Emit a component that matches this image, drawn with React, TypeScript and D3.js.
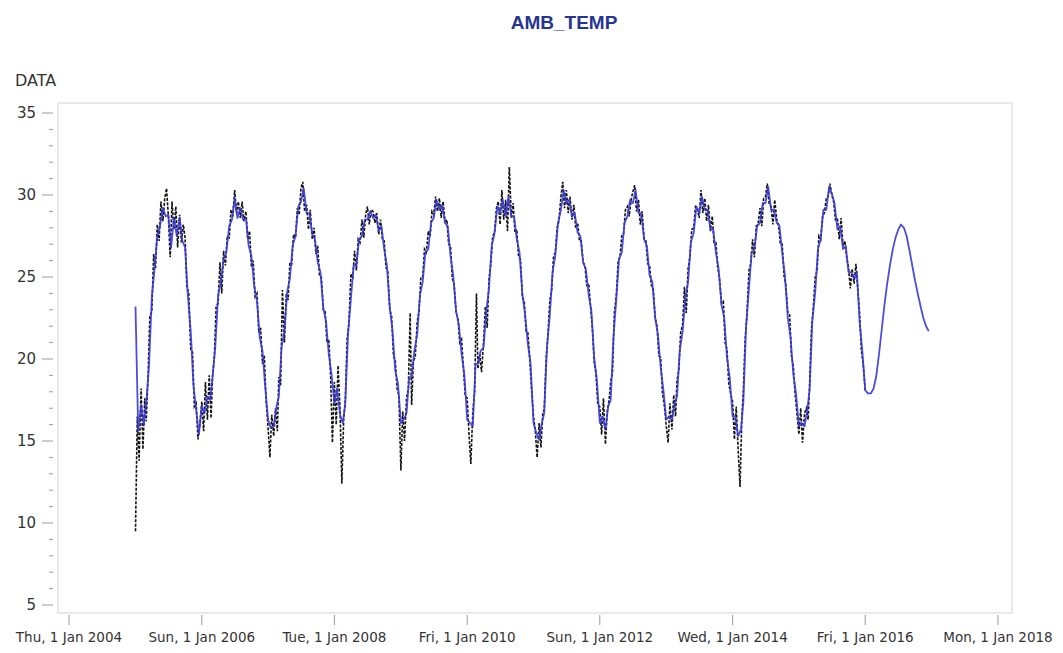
import React from "react";
import * as d3 from "d3";

// Ambient temperature: observed readings (three per month: 1st, 11th, 21st)
const firstYear = 2005;
const obs2005 = [9.5, 16.5, 13.8, 18.2, 14.5, 17.6, 16.2, 18.9, 22.6, 22.9, 26.4, 25.5, 28.2, 27.2, 29.6, 28.4, 29.8, 30.4, 28.7, 26.2, 29.6, 27.9, 29.3, 26.8, 28.8, 27.1, 28.2, 27.4, 24.3, 24.1, 20.6, 20.4, 17.1, 17.3, 15.1, 16.0];
const obs2006 = [17.4, 15.6, 18.6, 16.3, 19.0, 16.4, 18.9, 20.1, 23.2, 23.4, 25.9, 24.0, 26.6, 25.7, 27.5, 27.4, 29.1, 28.7, 30.3, 28.9, 29.6, 28.6, 29.6, 28.4, 29.0, 27.3, 27.8, 25.6, 26.0, 23.8, 24.0, 21.6, 21.9, 19.7, 20.2, 17.5];
const obs2007 = [15.8, 14.0, 16.6, 15.3, 17.0, 15.6, 18.9, 18.4, 24.2, 21.0, 24.0, 23.6, 25.9, 25.8, 27.6, 27.4, 29.2, 28.8, 30.4, 30.8, 29.0, 29.4, 27.9, 29.1, 27.3, 28.0, 26.4, 26.9, 25.1, 25.0, 23.0, 22.9, 21.0, 21.2, 19.0, 14.9];
const obs2008 = [18.6, 16.0, 19.6, 17.0, 12.4, 16.3, 17.5, 21.2, 22.2, 25.2, 24.9, 26.6, 25.4, 27.3, 27.1, 28.5, 27.4, 28.8, 29.3, 28.2, 29.1, 29.0, 28.3, 28.9, 27.6, 28.5, 27.3, 27.2, 25.6, 25.3, 23.0, 22.6, 20.2, 19.9, 18.2, 17.8];
const obs2009 = [13.2, 16.8, 15.0, 17.6, 18.2, 22.8, 17.2, 19.9, 20.1, 22.3, 22.9, 25.0, 25.0, 26.7, 26.5, 27.8, 27.5, 29.0, 28.8, 29.9, 29.0, 29.8, 28.6, 29.6, 28.4, 28.5, 27.0, 26.9, 24.9, 24.6, 22.8, 22.5, 21.0, 21.2, 19.5, 17.8];
const obs2010 = [17.6, 15.4, 13.6, 16.8, 18.0, 24.0, 19.4, 20.3, 19.2, 21.0, 23.2, 21.9, 24.9, 25.8, 27.4, 27.8, 29.2, 29.6, 28.2, 30.3, 28.5, 29.7, 27.8, 31.7, 28.6, 29.5, 27.7, 27.9, 26.2, 26.1, 23.8, 23.5, 21.7, 21.6, 20.1, 18.2];
const obs2011 = [16.5, 15.6, 14.0, 16.1, 14.6, 16.7, 16.9, 19.9, 21.4, 23.6, 24.2, 26.2, 26.5, 28.0, 28.4, 29.9, 30.8, 29.2, 30.3, 28.9, 29.9, 28.5, 29.4, 28.0, 28.3, 27.2, 27.2, 25.9, 25.7, 24.5, 24.6, 23.2, 21.9, 19.8, 19.1, 17.2];
const obs2012 = [17.1, 15.4, 17.6, 14.8, 16.8, 17.5, 18.6, 19.2, 22.8, 23.9, 26.0, 26.2, 27.5, 27.6, 29.1, 29.3, 28.7, 29.7, 30.2, 30.6, 29.0, 29.7, 28.2, 29.0, 27.3, 27.2, 25.8, 25.7, 24.5, 24.3, 22.5, 22.0, 20.2, 20.1, 17.9, 17.2];
const obs2013 = [15.9, 14.9, 17.3, 15.7, 17.8, 16.5, 18.7, 19.3, 21.6, 22.1, 24.4, 22.8, 25.5, 26.2, 27.9, 28.0, 29.3, 29.2, 28.6, 30.3, 28.9, 29.8, 28.4, 29.4, 27.8, 28.7, 27.1, 27.1, 25.6, 24.9, 23.4, 23.5, 21.0, 20.6, 18.5, 17.9];
const obs2014 = [17.4, 15.1, 17.1, 14.4, 12.2, 16.5, 18.0, 21.2, 22.7, 25.4, 25.8, 27.3, 26.2, 28.1, 28.2, 29.2, 28.1, 29.8, 29.9, 30.7, 29.5, 29.3, 28.2, 29.7, 28.5, 28.2, 27.0, 27.0, 25.1, 24.5, 22.8, 22.7, 20.2, 19.6, 17.9, 16.7];
const obs2015 = [15.4, 17.0, 14.9, 16.7, 17.0, 16.3, 18.5, 21.8, 23.1, 25.0, 25.4, 27.5, 27.3, 28.7, 28.9, 29.8, 29.9, 30.7, 30.0, 29.6, 28.5, 28.6, 27.3, 28.6, 26.9, 27.2, 26.2, 25.6, 24.3, 25.5, 24.6, 25.8, 24.3, 22.8, 20.5, 19.7];
const obsClosing = 18.1; // reading on 1 Jan 2016

// Model values (1st and 16th of each month), forecast through 2016
const fit2005 = [23.2, 15.6, 17.2, 16.0, 17.3, 19.5, 23.8, 25.5, 27.5, 28.1, 29.2, 28.7, 28.8, 26.8, 28.6, 27.5, 28.6, 27.2, 26.8, 23.9, 21.7, 18.4, 16.9, 15.4];
const fit2006 = [17.1, 16.7, 17.7, 17.5, 18.9, 20.7, 23.9, 24.7, 26.1, 26.5, 28.1, 28.5, 29.8, 28.6, 29.2, 28.5, 28.6, 26.9, 26.3, 24.5, 23.5, 21.3, 20.5, 18.3];
const fit2007 = [16.3, 15.8, 15.9, 17.1, 17.7, 20.7, 21.7, 24.1, 24.9, 26.9, 27.5, 29.3, 29.6, 30.4, 28.9, 28.9, 27.6, 27.3, 25.9, 25.3, 23.1, 22.3, 20.3, 19.1];
const fit2008 = [17.3, 18.2, 16.6, 16.1, 17.3, 21.5, 23.7, 25.7, 25.7, 27.3, 27.5, 28.5, 28.5, 29.0, 28.6, 28.8, 27.8, 28.1, 26.7, 25.7, 23.1, 21.7, 19.3, 18.5];
const fit2009 = [16.1, 16.3, 16.7, 18.9, 18.9, 20.5, 21.5, 23.9, 24.7, 26.5, 26.7, 28.3, 28.6, 29.7, 29.1, 29.4, 28.3, 28.1, 26.3, 25.1, 22.9, 22.1, 20.3, 19.1];
const fit2010 = [16.3, 16.1, 15.9, 19.7, 19.7, 20.5, 20.7, 22.9, 24.3, 26.9, 27.7, 29.3, 28.9, 29.7, 28.7, 29.9, 28.7, 28.7, 27.3, 26.5, 23.9, 22.7, 20.9, 19.7];
const fit2011 = [16.1, 15.5, 15.1, 16.1, 16.7, 20.7, 22.7, 25.3, 26.3, 28.3, 29.1, 30.3, 29.5, 29.7, 28.7, 28.9, 27.7, 27.5, 25.9, 25.5, 23.9, 22.9, 20.1, 18.7];
const fit2012 = [16.1, 16.5, 15.7, 17.1, 17.5, 21.3, 23.7, 26.1, 26.5, 28.3, 28.7, 29.7, 29.5, 30.3, 28.9, 28.9, 27.3, 26.9, 25.1, 24.7, 22.5, 21.5, 19.5, 18.1];
const fit2013 = [16.3, 16.5, 16.3, 17.3, 17.7, 20.5, 21.7, 23.7, 24.7, 27.1, 27.7, 29.3, 28.9, 29.9, 29.1, 29.1, 27.9, 27.9, 26.5, 25.5, 23.3, 22.5, 20.1, 18.9];
const fit2014 = [16.5, 16.5, 15.3, 15.7, 17.3, 21.9, 24.3, 26.5, 26.7, 28.1, 28.3, 29.5, 29.5, 30.5, 29.1, 29.1, 28.3, 28.1, 26.5, 25.1, 22.5, 21.3, 19.1, 17.9];
const fit2015 = [15.9, 16.1, 15.9, 16.9, 18.1, 22.3, 24.1, 26.7, 27.3, 29.1, 29.1, 30.5, 30.1, 29.5, 27.9, 28.1, 26.7, 26.9, 25.3, 25.3, 24.9, 25.3, 22.3, 20.5];
const fit2016 = [18.1, 17.9, 17.9, 18.2, 18.9, 20.2, 21.8, 23.3, 24.6, 25.7, 26.7, 27.4, 27.9, 28.2, 28.0, 27.5, 26.6, 25.7, 24.8, 24.0, 23.2, 22.5, 22.0, 21.7];

const observedByYear = [obs2005, obs2006, obs2007, obs2008, obs2009, obs2010, obs2011, obs2012, obs2013, obs2014, obs2015];
const fittedByYear = [fit2005, fit2006, fit2007, fit2008, fit2009, fit2010, fit2011, fit2012, fit2013, fit2014, fit2015, fit2016];

const yMajorTicks = [5, 10, 15, 20, 25, 30, 35];
const xTickYears = [2004, 2006, 2008, 2010, 2012, 2014, 2016, 2018];

const title = "AMB_TEMP";
const yTitle = "DATA";

type Pt = { date: Date; value: number };

const observed: Pt[] = [
  ...observedByYear.flatMap((vals, yi) =>
    vals.map((v, i) => ({ date: new Date(firstYear + yi, Math.floor(i / 3), [1, 11, 21][i % 3]), value: v }))
  ),
  { date: new Date(firstYear + observedByYear.length, 0, 1), value: obsClosing },
];

const fitted: Pt[] = fittedByYear.flatMap((vals, yi) =>
  vals.map((v, i) => ({ date: new Date(firstYear + yi, Math.floor(i / 2), i % 2 === 0 ? 1 : 16), value: v }))
);

const W = 1063;
const H = 653;
const frame = { left: 58, top: 103, right: 1012, bottom: 613 };

export default function App() {
  const x = d3
    .scaleTime()
    .domain([new Date(2004, 0, 1), new Date(2018, 0, 1)])
    .range([69, 998]);
  const y = d3.scaleLinear().domain([5, 35]).range([605, 113]);

  const line = d3
    .line<Pt>()
    .x((d) => x(d.date))
    .y((d) => y(d.value));

  const minorTicks = d3.range(5, 36).filter((v) => v % 5 !== 0);
  const fmt = d3.timeFormat("%a, %-d %b %Y");
  const font = "'DejaVu Sans', Verdana, sans-serif";

  return (
    <div style={{ position: "absolute", left: 0, top: 0 }}>
      <svg width={W} height={H} style={{ display: "block", background: "#fff" }}>
        <text x={564} y={29} textAnchor="middle" fontFamily="'Liberation Sans', Arial, sans-serif" fontWeight="bold" fontSize={19} fill="#263590">
          {title}
        </text>
        <text x={15} y={86} fontFamily={font} fontSize={16} fill="#333">
          {yTitle}
        </text>

        <rect
          x={frame.left}
          y={frame.top}
          width={frame.right - frame.left}
          height={frame.bottom - frame.top}
          fill="#fff"
          stroke="#d4d4d4"
          strokeWidth={1}
        />

        {/* y axis */}
        {yMajorTicks.map((v) => (
          <g key={"ym" + v}>
            <line x1={42} x2={53} y1={y(v)} y2={y(v)} stroke="#9a9a9a" strokeWidth={1} />
            <text x={36} y={y(v)} dy="0.36em" textAnchor="end" fontFamily={font} fontSize={15} fill="#333">
              {v}
            </text>
          </g>
        ))}
        {minorTicks.map((v) => (
          <line key={"yn" + v} x1={49} x2={53} y1={y(v)} y2={y(v)} stroke="#9a9a9a" strokeWidth={1} />
        ))}

        {/* x axis */}
        {xTickYears.map((yr) => {
          const d = new Date(yr, 0, 1);
          return (
            <g key={"x" + yr}>
              <line x1={x(d)} x2={x(d)} y1={615} y2={625} stroke="#9a9a9a" strokeWidth={1} />
              <text x={x(d)} y={642} textAnchor="middle" fontFamily={font} fontSize={13.5} fill="#333">
                {fmt(d)}
              </text>
            </g>
          );
        })}

        {/* series */}
        <path d={line(observed) || ""} fill="none" stroke="#111" strokeWidth={1.6} strokeDasharray="3,1.5" />
        <path d={line(fitted) || ""} fill="none" stroke="#3a3ad6" strokeWidth={1.8} strokeLinejoin="round" strokeOpacity={0.9} />
      </svg>
    </div>
  );
}
